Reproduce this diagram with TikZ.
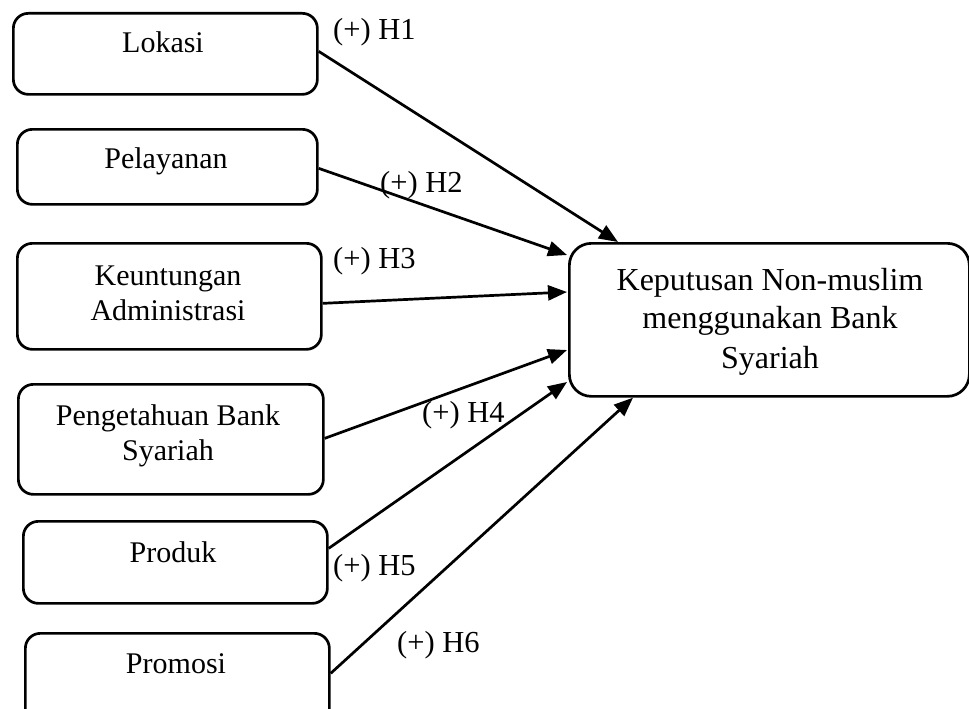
\documentclass[tikz,border=0pt]{standalone}
\usepackage{fontspec}
\setmainfont{Liberation Serif}
\usetikzlibrary{arrows.meta,calc}
\begin{document}
\begin{tikzpicture}[x=1pt,y=-1pt,
  box/.style={draw,line width=2.7pt,rounded corners=15pt,inner sep=0pt,anchor=north west},
  txt/.style={anchor=base,inner sep=0pt,font=\fontsize{30}{36}\selectfont},
  ttxt/.style={anchor=base,inner sep=0pt,font=\fontsize{32}{38}\selectfont},
  lbl/.style={anchor=base west,inner sep=0pt,font=\fontsize{30.5}{36}\selectfont},
  arr/.style={line width=2.7pt,-{Triangle[length=19pt,width=15pt]}}]
\useasboundingbox (0,0) rectangle (969,709);
\clip (0,0) rectangle (969,709);
% boxes
\node[box,minimum width=304pt,minimum height=81pt] (lok) at (12,12) {};
\node[box,minimum width=300pt,minimum height=75pt] (pel) at (16,128) {};
\node[box,minimum width=304pt,minimum height=106pt] (keu) at (16,242) {};
\node[box,minimum width=305pt,minimum height=110pt] (pen) at (17,383) {};
\node[box,minimum width=304pt,minimum height=82pt] (pro) at (22,520) {};
\node[box,minimum width=304pt,minimum height=110pt] (prm) at (24,632) {};
\node[box,rounded corners=22pt,minimum width=400pt,minimum height=153pt] (tgt) at (568,242) {};
% texts
\node[txt] (tlok) at (163,53) {Lokasi};
\node[txt] (tpel) at (166,168) {Pelayanan};
\node[txt] (tkeu1) at (168,285) {Keuntungan};
\node[txt] (tkeu2) at (168,320) {Administrasi};
\node[txt] (tpen1) at (168,425) {Pengetahuan Bank};
\node[txt] (tpen2) at (168,460) {Syariah};
\node[txt] (tpro) at (173,562) {Produk};
\node[txt] (tprm) at (176,673) {Promosi};
\node[ttxt] (ttgt1) at (770,290) {Keputusan Non-muslim};
\node[ttxt] (ttgt2) at (770,328) {menggunakan Bank};
\node[ttxt] (ttgt3) at (770,368) {Syariah};
% labels
\node[lbl] (h1) at (333,40) {(+) H1};
\node[lbl] (h2) at (380,192) {(+) H2};
\node[lbl] (h3) at (333,268) {(+) H3};
\node[lbl] (h4) at (422,422) {(+) H4};
\node[lbl] (h5) at (333,575) {(+) H5};
\node[lbl] (h6) at (397,652) {(+) H6};
% arrows
\draw[arr] ([yshift=2.5pt]lok.east) -- ([xshift=50pt]tgt.north west);
\draw[arr] ([yshift=-1.5pt]pel.east) -- ([yshift=-13pt,xshift=-1pt]tgt.north west);
\draw[arr] ([yshift=-7pt]keu.east) -- ([yshift=-50pt,xshift=-1pt]tgt.north west);
\draw[arr] ([yshift=1pt]pen.east) -- ([yshift=-108pt,xshift=-1pt]tgt.north west);
\draw[arr] ([yshift=14pt]pro.east) -- ([yshift=-140pt,xshift=-1pt]tgt.north west);
\draw[arr] ([yshift=15pt]prm.east) -- ([xshift=65pt]tgt.south west);
\end{tikzpicture}
\end{document}
